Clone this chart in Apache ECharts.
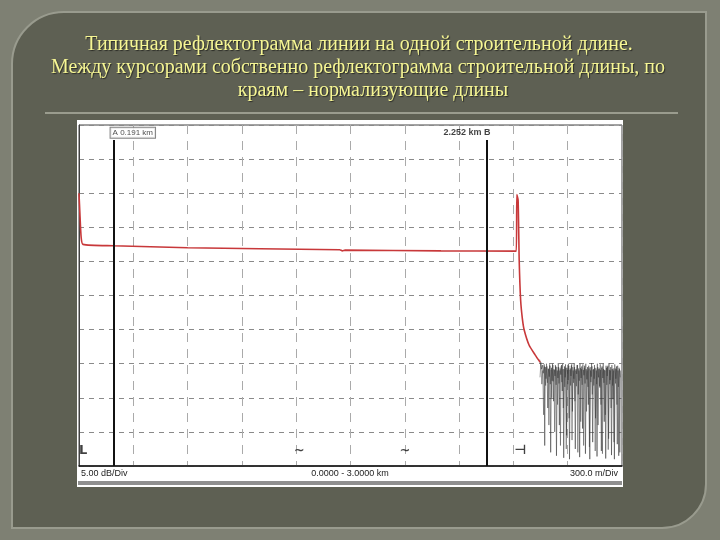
<!DOCTYPE html>
<html><head><meta charset="utf-8">
<script src="https://cdn.jsdelivr.net/npm/echarts/dist/echarts.min.js"></script>
<style>html,body{margin:0;padding:0;background:#7e8073}#c{width:720px;height:540px}</style>
</head><body><div id="c"></div><script>
// ---- data ----
const titleLines = [
  'Типичная рефлектограмма линии на одной строительной длине.',
  'Между курсорами собственно рефлектограмма строительной длины, по',
  'краям – нормализующие длины'
];
const footerLabels = ['5.00 dB/Div', '0.0000 - 3.0000 km', '300.0 m/Div'];
const traceKm = [0.000, 0.005, 0.012, 0.022, 0.190, 0.600, 1.000, 1.440, 1.455, 1.470, 2.000, 2.416, 2.419, 2.426, 2.432, 2.440, 2.450, 2.460, 2.487, 2.520, 2.548];
const traceDb = [40.0, 37.0, 33.5, 32.5, 32.3, 32.0, 31.85, 31.7, 31.55, 31.65, 31.55, 31.5, 39.8, 39.0, 30.2, 24.3, 21.5, 19.9, 17.7, 16.3, 15.2];
const noiseKm = [2.545,2.550,2.555,2.560,2.565,2.570,2.573,2.576,2.580,2.585,2.590,2.594,2.598,2.602,2.606,2.610,2.614,2.618,2.622,2.626,2.630,2.634,2.638,2.642,2.646,2.650,2.654,2.658,2.662,2.666,2.670,2.674,2.678,2.682,2.686,2.690,2.694,2.698,2.702,2.706,2.710,2.714,2.718,2.722,2.726,2.730,2.734,2.738,2.742,2.746,2.750,2.754,2.758,2.762,2.766,2.770,2.774,2.778,2.782,2.786,2.790,2.794,2.798,2.802,2.806,2.810,2.814,2.818,2.822,2.826,2.830,2.834,2.838,2.842,2.846,2.850,2.854,2.858,2.862,2.866,2.870,2.874,2.878,2.882,2.886,2.890,2.894,2.898,2.902,2.906,2.910,2.914,2.918,2.922,2.926,2.930,2.934,2.938,2.942,2.946,2.950,2.954,2.958,2.962,2.966,2.970,2.974,2.978,2.982,2.986,2.990];
const noiseDb = [15.6,15.0,14.2,14.8,13.6,14.9,3.0,14.5,12.8,14.6,8.5,14.2,13.1,14.7,2.0,14.4,12.5,14.8,9.5,14.1,13.2,14.6,1.5,14.0,12.9,14.5,6.0,14.3,13.4,14.8,11.0,14.2,1.2,14.6,13.0,14.4,4.5,14.1,12.6,14.7,1.0,14.3,13.2,14.9,8.0,14.0,12.8,14.5,2.5,14.2,13.5,14.8,10.5,14.0,1.3,14.4,12.9,14.6,5.5,14.1,13.3,14.7,1.8,14.2,12.7,14.5,9.0,14.3,1.0,14.0,13.1,14.6,3.5,14.2,12.8,14.4,7.0,14.0,1.4,14.5,13.0,14.3,11.5,14.1,2.2,14.6,12.9,14.2,6.5,14.0,1.1,14.4,13.2,14.7,4.0,14.1,12.6,14.5,1.6,14.2,9.8,14.0,1.0,14.3,12.8,14.6,3.2,14.0,1.5,14.2,13.0];
const noiseBand = [[2.547,13.0],[2.552,15.2],[2.557,12.0],[2.562,14.0],[2.567,7.5],[2.572,14.6],[2.578,11.8],[2.583,15.0],[2.588,12.2],[2.592,14.3],[2.596,6.0],[2.600,14.9],[2.604,12.0],[2.608,14.1],[2.612,10.0],[2.616,15.0],[2.620,12.4],[2.624,14.2],[2.628,5.0],[2.632,14.8],[2.636,11.9],[2.640,14.5],[2.644,9.0],[2.648,15.1],[2.652,12.1],[2.656,14.0],[2.660,3.0],[2.664,14.6],[2.668,12.3],[2.672,15.0],[2.676,8.5],[2.680,14.2],[2.684,11.6],[2.688,14.9],[2.692,2.5],[2.696,14.4],[2.700,12.0],[2.704,15.0],[2.708,7.0],[2.712,14.1],[2.716,11.8],[2.720,14.7],[2.724,3.8],[2.728,14.5],[2.732,12.2],[2.736,15.1],[2.740,9.5],[2.744,14.0],[2.748,11.7],[2.752,14.8],[2.756,2.0],[2.760,14.3],[2.764,12.5],[2.768,15.0],[2.772,6.5],[2.776,14.2],[2.780,11.9],[2.784,14.9],[2.788,3.0],[2.792,14.4],[2.796,12.1],[2.800,15.0],[2.804,8.0],[2.808,14.0],[2.812,11.6],[2.816,14.7],[2.820,2.8],[2.824,14.5],[2.828,12.3],[2.832,15.1],[2.836,10.5],[2.840,14.1],[2.844,11.8],[2.848,14.8],[2.852,2.2],[2.856,14.3],[2.860,12.0],[2.864,15.0],[2.868,6.0],[2.872,14.2],[2.876,11.7],[2.880,14.9],[2.884,9.0],[2.888,14.4],[2.892,1.8],[2.896,15.0],[2.900,12.2],[2.904,14.1],[2.908,7.5],[2.912,14.7],[2.916,11.9],[2.920,14.5],[2.924,2.4],[2.928,15.1],[2.932,12.0],[2.936,14.0],[2.940,8.5],[2.944,14.8],[2.948,11.8],[2.952,14.3],[2.956,3.5],[2.960,14.9],[2.964,12.1],[2.968,14.2],[2.972,9.0],[2.976,14.7],[2.980,11.6],[2.984,14.4],[2.988,2.0],[2.992,14.0]];
const cursorKm = [0.191, 2.252];
const cursorTopDb = 47.8;
const cursorLabels = ['A 0.191 km', '2.252 km B'];
const cursorLabelDb = 48.7;
const eventKm = [0.0, 1.186, 1.771, 2.405];
const eventGlyphs = ['L', '~', '~', '⊣'];
const eventDb = 2.1;

// ---- chart ----
const chart = echarts.init(document.getElementById('c'));
const zip = (a, b) => a.map((v, i) => [v, b[i]]);
const fam = 'Liberation Serif';
const titleX = [359, 358, 373];
const graphics = [
  {type:'rect', z:-10, shape:{x:12, y:12, width:694, height:516, r:[52,0,44,0]},
   style:{fill:'#5e6053', stroke:'#999b8e', lineWidth:2}},
  {type:'line', z:-9, shape:{x1:45, y1:113, x2:678, y2:113}, style:{stroke:'#9a9c8e', lineWidth:2}},
  {type:'rect', z:-9, shape:{x:77, y:120, width:546, height:367}, style:{fill:'#ffffff'}},
  {type:'rect', z:-8, shape:{x:78, y:481, width:544, height:4}, style:{fill:'#8f8f8f'}}
];
titleLines.forEach((t, i) => graphics.push({
  type:'text', z:5, x:titleX[i], y:45 + i * 23,
  style:{text:t, fill:'#f6f694', font:'20px "' + fam + '"', textAlign:'center', textVerticalAlign:'middle',
    textShadowColor:'rgba(0,0,0,0.55)', textShadowOffsetX:1, textShadowOffsetY:1, textShadowBlur:1}
}));
const footX = [81, 350, 618];
const footAlign = ['left', 'center', 'right'];
footerLabels.forEach((t, i) => graphics.push({
  type:'text', z:5, x:footX[i], y:474,
  style:{text:t, fill:'#222', font:'9px "Liberation Sans"', textAlign:footAlign[i], textVerticalAlign:'middle'}
}));

chart.setOption({
  animation:false,
  backgroundColor:'#7e8073',
  graphic:graphics,
  grid:{left:79, right:98, top:125, bottom:74, show:true, borderColor:'#444', borderWidth:1, backgroundColor:'transparent'},
  xAxis:{type:'value', min:0, max:3, interval:0.3,
    axisLabel:{show:false}, axisTick:{show:false},
    axisLine:{show:true, onZero:false, lineStyle:{color:'#111', width:1.5}},
    splitLine:{show:true, lineStyle:{type:[9,7], color:'#aaaaaa', width:1}}},
  yAxis:{type:'value', min:0, max:50, interval:5,
    axisLabel:{show:false}, axisTick:{show:false},
    axisLine:{show:true, lineStyle:{color:'#444', width:1}},
    splitLine:{show:true, lineStyle:{type:[5,5], color:'#8a8a8a', width:1}}},
  series:[
    {type:'line', name:'noise', data:zip(noiseKm, noiseDb), showSymbol:false, z:2,
      lineStyle:{color:'#3a3a3a', width:0.8, opacity:0.7}},
    {type:'line', name:'noiseBand', data:noiseBand, showSymbol:false, z:2,
      lineStyle:{color:'#3a3a3a', width:0.8, opacity:0.6}},
    {type:'line', name:'trace', data:zip(traceKm, traceDb), showSymbol:false, z:4, smooth:0.2,
      lineStyle:{color:'#c8383a', width:1.6}},
    {type:'line', name:'cursors', data:[], z:5,
      markLine:{silent:true, symbol:['none','none'], label:{show:false},
        lineStyle:{color:'#111', width:2, type:'solid'},
        data:cursorKm.map(k => [{coord:[k, 0]}, {coord:[k, cursorTopDb]}])}},
    {type:'scatter', name:'cursorLabels', symbolSize:0, z:6,
      data:cursorKm.map((k, i) => ({value:[k, cursorLabelDb],
        label:i === 0
          ? {show:true, position:[-3,-6], formatter:cursorLabels[i], color:'#222', fontSize:8,
             fontFamily:'Liberation Sans', borderColor:'#666', borderWidth:1, padding:[1,2,1,2], backgroundColor:'#fff'}
          : {show:true, position:[4,-6], align:'right', formatter:cursorLabels[i], color:'#111', fontSize:9,
             fontWeight:'bold', fontFamily:'Liberation Sans'}}))},
    {type:'scatter', name:'events', symbolSize:0, z:6,
      data:eventKm.map((k, i) => ({value:[k, eventDb],
        label:{show:true, position:[0,-8], formatter:eventGlyphs[i], color:'#111', fontSize:13,
          fontWeight:'bold', fontFamily:'DejaVu Sans'}}))}
  ]
});
</script></body></html>
